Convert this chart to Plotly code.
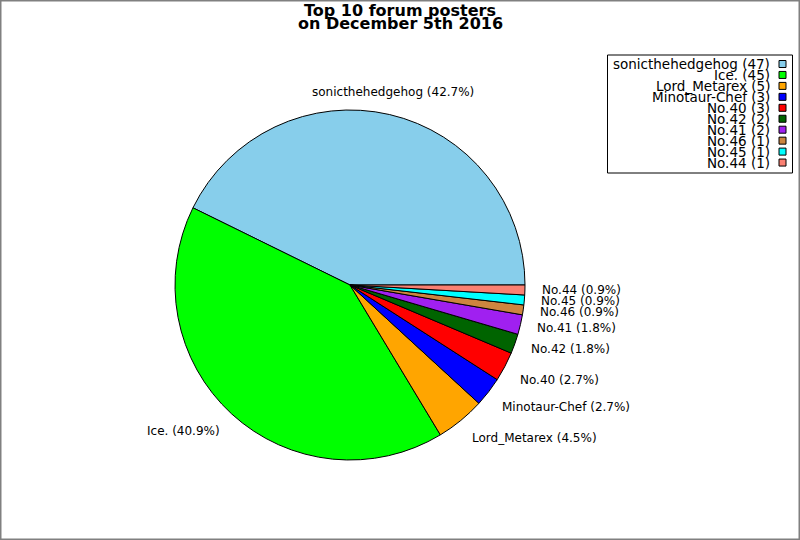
import math
import plotly.graph_objects as go

# data
names = ["sonicthehedgehog", "Ice.", "Lord_Metarex", "Minotaur-Chef", "No.40",
         "No.42", "No.41", "No.46", "No.45", "No.44"]
posts = [47, 45, 5, 3, 3, 2, 2, 1, 1, 1]
colors = ["#87CEEB", "#00FF00", "#FFA500", "#0000FF", "#FF0000",
          "#006400", "#A020F0", "#CD853F", "#00FFFF", "#FA8072"]
title_lines = ["Top 10 forum posters", "on December 5th 2016"]

W, H = 800, 540
cx, cy, R = 350, 285, 175   # pie centre / radius in px
lab_r = 190                 # label radius


def px(x):
    return x / W


def py(y):
    return 1 - y / H


total = sum(posts)

fig = go.Figure()
fig.add_trace(go.Pie(
    labels=names, values=posts, sort=False,
    direction="counterclockwise",
    # first slice should start at 3 o'clock and run counterclockwise
    rotation=90 - posts[0] / total * 360,
    marker=dict(colors=colors, line=dict(color="black", width=1)),
    textinfo="none", hoverinfo="label+value+percent",
    domain=dict(x=[px(cx - R), px(cx + R)], y=[py(cy + R), py(cy - R)]),
    showlegend=False,
))

annos = []
shapes = []

# slice labels
cum = 0
for n, v in zip(names, posts):
    mid = (cum + v / 2) / total * 2 * math.pi
    cum += v
    c, s = math.cos(mid), math.sin(mid)
    xa = "left" if c > 0.3 else ("right" if c < -0.3 else "center")
    ya = "top" if s < -0.4 else ("bottom" if s > 0.4 else "middle")
    ysh = 3 if ya == "top" else (-1 if ya == "bottom" else 0)
    annos.append(dict(
        x=px(cx + lab_r * c), y=py(cy - lab_r * s), xref="paper", yref="paper",
        text=f"{n} ({v / total * 100:.1f}%)", showarrow=False,
        xanchor=xa, yanchor=ya, yshift=ysh,
        font=dict(size=12, color="black", family="DejaVu Sans"),
    ))

# legend
leg_top, leg_step = 64, 10.95
for i, (n, v, col) in enumerate(zip(names, posts, colors)):
    yc = leg_top + i * leg_step
    annos.append(dict(
        x=px(772), y=py(yc), xref="paper", yref="paper",
        text=f"{n} ({v})", showarrow=False, xanchor="right", yanchor="middle",
        font=dict(size=13.5, color="black", family="DejaVu Sans"),
    ))
    shapes.append(dict(type="rect", xref="paper", yref="paper",
                       x0=px(779), x1=px(786), y0=py(yc - 3.5), y1=py(yc + 3.5),
                       fillcolor=col, line=dict(color="black", width=1)))
shapes.append(dict(type="rect", xref="paper", yref="paper",
                   x0=px(607.5), x1=px(792.5), y0=py(173), y1=py(55),
                   line=dict(color="black", width=1)))

# title
for j, t in enumerate(title_lines):
    annos.append(dict(
        x=px(400), y=py(10.5 + j * 13.4), xref="paper", yref="paper",
        text=f"<b>{t}</b>", showarrow=False, xanchor="center", yanchor="middle",
        font=dict(size=16, color="black", family="DejaVu Sans"),
    ))

# outer frame
shapes.append(dict(type="rect", xref="paper", yref="paper", x0=0, x1=1, y0=0, y1=1,
                   line=dict(color="#808080", width=3)))

fig.update_layout(
    width=W, height=H, margin=dict(l=0, r=0, t=0, b=0),
    paper_bgcolor="white", plot_bgcolor="white",
    annotations=annos, shapes=shapes,
)

fig.write_html("out.html", config={"displayModeBar": False},
               post_script="document.body.style.margin='0px';")
